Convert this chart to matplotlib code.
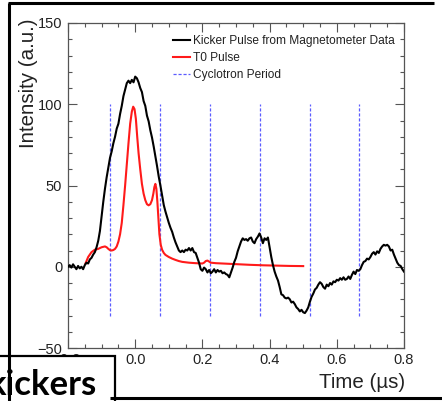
import matplotlib
matplotlib.use("Agg")
import matplotlib.pyplot as plt
from matplotlib.patches import Rectangle
from matplotlib.lines import Line2D

plt.rcParams['font.family'] = ['Liberation Sans', 'DejaVu Sans']

# ---- data ----
kick_x = [-0.200, -0.195, -0.190, -0.185, -0.180, -0.175, -0.170, -0.165, -0.160, -0.155,
          -0.150, -0.145, -0.140, -0.135, -0.130, -0.125, -0.120, -0.115, -0.110, -0.105,
          -0.100, -0.095, -0.090, -0.085, -0.080, -0.075, -0.070, -0.065, -0.060, -0.055,
          -0.050, -0.045, -0.040, -0.035, -0.030, -0.025, -0.020, -0.015, -0.010, -0.005,
          0.000, 0.005, 0.010, 0.015, 0.020, 0.025, 0.030, 0.035, 0.040, 0.045,
          0.050, 0.055, 0.060, 0.065, 0.070, 0.075, 0.080, 0.085, 0.090, 0.095,
          0.100, 0.105, 0.110, 0.115, 0.120, 0.125, 0.130, 0.135, 0.140, 0.145,
          0.150, 0.155, 0.160, 0.165, 0.170, 0.175, 0.180, 0.185, 0.190, 0.195,
          0.200, 0.205, 0.210, 0.215, 0.220, 0.225, 0.230, 0.235, 0.240, 0.245,
          0.250, 0.255, 0.260, 0.265, 0.270, 0.275, 0.280, 0.285, 0.290, 0.295,
          0.300, 0.305, 0.310, 0.315, 0.320, 0.325, 0.330, 0.335, 0.340, 0.345,
          0.350, 0.355, 0.360, 0.365, 0.370, 0.375, 0.380, 0.385, 0.390, 0.395,
          0.400, 0.405, 0.410, 0.415, 0.420, 0.425, 0.430, 0.435, 0.440, 0.445,
          0.450, 0.455, 0.460, 0.465, 0.470, 0.475, 0.480, 0.485, 0.490, 0.495,
          0.500, 0.505, 0.510, 0.515, 0.520, 0.525, 0.530, 0.535, 0.540, 0.545,
          0.550, 0.555, 0.560, 0.565, 0.570, 0.575, 0.580, 0.585, 0.590, 0.595,
          0.600, 0.605, 0.610, 0.615, 0.620, 0.625, 0.630, 0.635, 0.640, 0.645,
          0.650, 0.655, 0.660, 0.665, 0.670, 0.675, 0.680, 0.685, 0.690, 0.695,
          0.700, 0.705, 0.710, 0.715, 0.720, 0.725, 0.730, 0.735, 0.740, 0.745,
          0.750, 0.755, 0.760, 0.765, 0.770, 0.775, 0.780, 0.785, 0.790, 0.795,
          0.800]
kick_y = [0.0, 1.0, -0.5, 1.5, 0.0, -1.5, 0.5, -1.0, 0.0, -1.5,
          1.0, 2.5, 2.0, 4.5, 5.5, 7.5, 9.0, 12.0, 16.0, 22.0,
          31.0, 40.0, 48.0, 55.0, 61.0, 67.0, 71.0, 76.0, 80.0, 85.0,
          88.0, 94.0, 99.0, 105.0, 109.0, 113.0, 114.5, 113.0, 115.0, 113.5,
          117.0, 116.0, 113.5, 110.0, 107.5, 102.0, 99.0, 93.0, 89.5, 84.0,
          79.5, 74.0, 68.0, 62.0, 55.5, 50.0, 44.0, 38.0, 34.0, 30.5,
          27.0, 24.0, 21.5, 18.0, 15.0, 12.5, 10.0, 9.0, 10.0, 9.0,
          10.5, 10.0, 11.5, 10.0, 11.5, 9.0, 8.5, 5.5, 2.5, -1.5,
          -2.5, -0.5, -1.5, -3.5, -2.0, -4.0, -3.0, -1.5, -3.5, -2.0,
          -3.0, -2.5, -4.0, -3.5, -4.5, -5.0, -6.5, -3.5, -0.5, 3.0,
          5.5, 9.5, 12.5, 15.5, 17.5, 16.5, 17.0, 16.0, 17.5, 18.0,
          15.5, 14.5, 17.0, 18.5, 20.5, 18.0, 14.5, 17.5, 16.5, 18.0,
          12.0, 6.0, 1.0, -3.0, -6.0, -8.5, -12.5, -17.0, -17.5, -19.0,
          -19.5, -19.0, -20.0, -22.0, -21.5, -23.0, -25.0, -26.0, -27.5, -26.5,
          -28.0, -28.5, -27.0, -25.0, -21.5, -18.5, -16.5, -14.0, -13.0, -11.0,
          -9.5, -10.5, -12.5, -13.5, -11.0, -12.0, -10.0, -11.0, -9.0, -9.5,
          -8.0, -8.5, -7.0, -8.0, -6.5, -8.0, -7.5, -6.0, -7.5, -5.0,
          -3.0, -4.5, -2.0, -2.5, -1.5, 1.0, 3.0, 3.5, 5.0, 4.5,
          6.0, 8.0, 9.0, 7.5, 9.5, 8.5, 11.0, 12.5, 13.5, 13.0,
          13.5, 12.5, 10.0, 10.5, 7.5, 5.0, 2.5, 1.0, 0.5, -1.5,
          -3.0]

t0_x = [-0.148, -0.140, -0.130, -0.120, -0.110, -0.100, -0.090, -0.085, -0.080, -0.075,
        -0.070, -0.065, -0.060, -0.055, -0.050, -0.045, -0.040, -0.035, -0.030, -0.025,
        -0.020, -0.015, -0.010, -0.006, -0.002, 0.002, 0.006, 0.010, 0.015, 0.020,
        0.025, 0.030, 0.035, 0.040, 0.045, 0.050, 0.054, 0.057, 0.060, 0.063,
        0.066, 0.069, 0.072, 0.076, 0.080, 0.085, 0.090, 0.100, 0.110, 0.120,
        0.130, 0.140, 0.160, 0.180, 0.200, 0.205, 0.210, 0.215, 0.220, 0.225,
        0.240, 0.260, 0.300, 0.340, 0.380, 0.420, 0.460, 0.500]
t0_y = [2.0, 6.0, 9.0, 10.5, 11.0, 12.0, 12.5, 12.0, 11.0, 10.2,
        10.0, 10.3, 11.0, 12.5, 15.5, 20.0, 27.0, 38.0, 50.0, 63.0,
        76.0, 88.0, 95.5, 98.5, 97.0, 91.0, 80.0, 70.0, 60.0, 51.0,
        45.0, 41.0, 38.5, 37.8, 38.5, 41.0, 45.0, 49.0, 51.0, 48.0,
        40.0, 30.0, 20.0, 13.5, 10.5, 8.5, 7.3, 6.0, 5.0, 4.2,
        3.5, 3.0, 2.5, 2.2, 2.0, 2.5, 3.5, 3.8, 3.2, 2.5,
        2.2, 2.0, 1.6, 1.2, 0.9, 0.7, 0.5, 0.4]

cyc_x = [-0.075, 0.074, 0.222, 0.371, 0.519, 0.667]
cyc_ymin, cyc_ymax = -30, 100

labels = ["Kicker Pulse from Magnetometer Data", "T0 Pulse", "Cyclotron Period"]
x_ticks = [-0.2, 0.0, 0.2, 0.4, 0.6, 0.8]
y_ticks = [-50, 0, 50, 100, 150]

# ---- figure ----
W, H = 442, 401
fig = plt.figure(figsize=(W / 100, H / 100), dpi=100)
ax = fig.add_axes([68 / W, 1 - 348 / H, 336 / W, 325 / H])

cyc_color = '#5c5cff'
cyc = ax.vlines(cyc_x, cyc_ymin, cyc_ymax, colors=cyc_color, linewidth=0.9,
                linestyles=(0, (2.5, 1.5)), zorder=1)
l_kick, = ax.plot(kick_x, kick_y, color='black', lw=1.5, zorder=3)
l_t0, = ax.plot(t0_x, t0_y, color='#ff1a1a', lw=1.5, zorder=2)

ax.set_xlim(-0.2, 0.8)
ax.set_ylim(-50, 150)
ax.set_xticks(x_ticks)
ax.set_xticklabels([f"{v:.1f}" for v in x_ticks])
ax.set_yticks(y_ticks)
ax.set_xticks([i * 0.05 - 0.2 for i in range(21)], minor=True)
ax.set_yticks([i * 10 - 50 for i in range(21)], minor=True)

spine_c = '#555555'
for s in ax.spines.values():
    s.set_color(spine_c)
    s.set_linewidth(0.9)
ax.tick_params(which='both', direction='in', top=True, right=True, color=spine_c,
               width=0.8, labelsize=10.5, labelcolor='#222222')
ax.tick_params(which='major', length=6.5)
ax.tick_params(which='minor', length=3.2)
ax.tick_params(axis='x', pad=3.6)
ax.tick_params(axis='y', pad=4.2)

leg_handles = [l_kick, l_t0,
               Line2D([], [], color=cyc_color, lw=0.9, linestyle=(0, (2.5, 1.5)))]
leg = ax.legend(leg_handles, labels, loc='upper left', bbox_to_anchor=(0.3125, 0.962),
                frameon=False, fontsize=8.6, handlelength=1.45, handletextpad=0.2,
                labelspacing=0.42, borderpad=0, borderaxespad=0)
for t in leg.get_texts():
    t.set_color('#222222')

fig.text(28 / W, 1 - 19 / H, "Intensity (a.u.)", rotation=90, ha='center', va='top',
         fontsize=14.8, color='#222222')
fig.text(405 / W, 1 - 383 / H, "Time (\u00b5s)", ha='right', va='center',
         fontsize=14.8, color='#222222')

# ---- slide decorations (frame and "kickers" box) ----
ov = fig.add_axes([0, 0, 1, 1], zorder=10)
ov.set_xlim(0, W)
ov.set_ylim(H, 0)
ov.axis('off')
ov.patch.set_alpha(0)
ov.plot([8.8, 8.8], [2.5, H + 5], color='black', lw=2.2, solid_capstyle='butt')
ov.plot([7.7, 434], [3.0, 3.0], color='black', lw=2.2, solid_capstyle='butt')
ov.plot([110, W + 5], [398.0, 398.0], color='black', lw=2.2, solid_capstyle='butt')
ov.add_patch(Rectangle((-10, 355.5), 124.5, 70, facecolor='white', edgecolor='black',
                       lw=1.6))
ov.text(97, 395, "kickers", ha='right', va='baseline', fontsize=25, fontweight='bold',
        family=['Lato', 'DejaVu Sans'], color='black')

fig.savefig("out.png", dpi=100)
